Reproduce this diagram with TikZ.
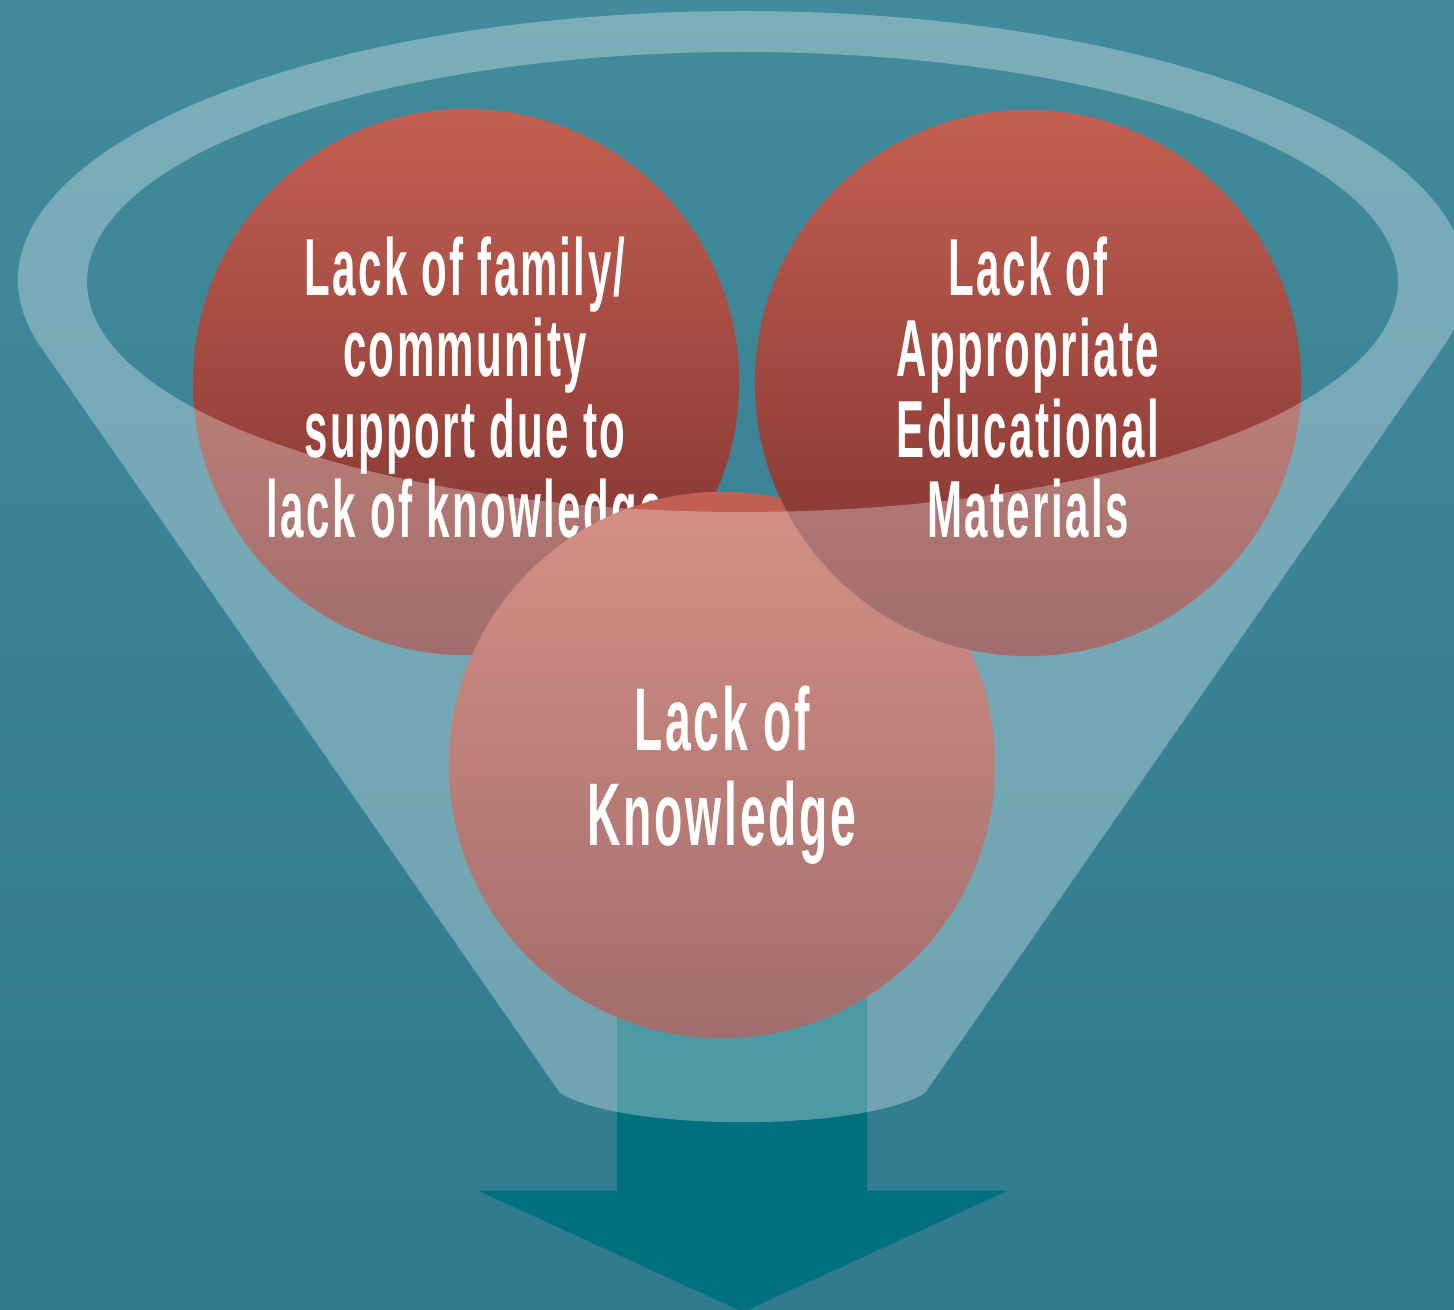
\documentclass[tikz,border=0pt]{standalone}
\usepackage{fontspec}
\newfontfamily\condfont[FakeStretch=0.52, LetterSpace=3]{Liberation Sans}
\newfontfamily\condfontb[FakeStretch=0.52, LetterSpace=3]{Liberation Sans}
\newcommand\tightlines{\setlength{\lineskiplimit}{-100pt}\setlength{\lineskip}{0pt}}
\definecolor{bgtop}{RGB}{66,139,155}
\definecolor{bgbot}{RGB}{47,122,141}
\definecolor{arrowc}{RGB}{0,111,126}
\definecolor{ctop}{RGB}{196,96,83}
\definecolor{cbot}{RGB}{122,47,45}
\begin{document}
\begin{tikzpicture}[x=0.01cm,y=-0.01cm,
  bubble/.style={circle, minimum size=5.46cm, inner sep=0pt, draw=none,
    top color=ctop, bottom color=cbot},
  bubbletext/.style={text=white, align=center, inner sep=0pt, anchor=north,
    font=\condfont\bfseries\fontsize{23}{23}\selectfont\tightlines},
  bubbletextbig/.style={bubbletext,
    font=\condfontb\bfseries\fontsize{25.3}{27}\selectfont\tightlines},
  funnel/.style={fill=white, opacity=0.3, even odd rule}]
\useasboundingbox (0,0) rectangle (1454,1310);
\shade[top color=bgtop, bottom color=bgbot] (0,0) rectangle (1454,1310);
% arrow
\fill[arrowc] (617,900) -- (867,900) -- (867,1191) -- (1007,1191) -- (743,1312)
  -- (479,1191) -- (617,1191) -- cycle;
% circles
\node[bubble] (left) at (466,382) {};
\node[bubbletext] (lefttext) at (465,236)
  {Lack of family/\\community\\support due to\\lack of knowledge};
\node[bubble] (bottom) at (722,765) {};
\node[bubbletextbig] (bottomtext) at (722,685) {Lack of\\Knowledge};
\node[bubble] (right) at (1028,383) {};
\node[bubbletext] (righttext) at (1028,236)
  {Lack of\\Appropriate\\Educational\\Materials};
% funnel overlay
\path[funnel] (41.1,347.4) arc[start angle=165.5, end angle=374.5, x radius=724, y radius=269]
  -- (925,1093) .. controls (862,1132) and (623,1132) .. (560,1093) -- cycle
  (742.5,282) ellipse [x radius=655.5, y radius=230];
\end{tikzpicture}
\end{document}
